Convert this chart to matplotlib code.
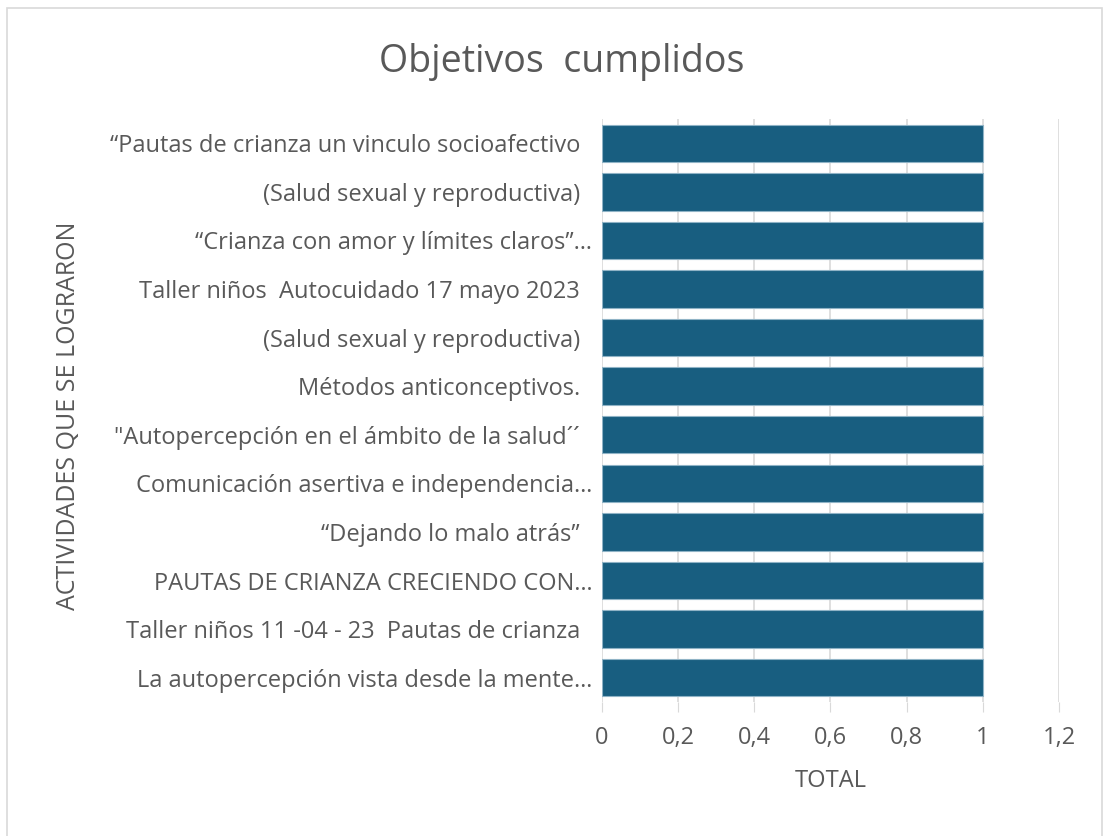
import matplotlib.pyplot as plt
from matplotlib.patches import Rectangle
from matplotlib.ticker import FuncFormatter

# activities, listed top to bottom as in the chart
actividades = [
    "\u201cPautas de crianza un vinculo socioafectivo  ",
    "(Salud sexual y reproductiva)  ",
    "\u201cCrianza con amor y límites claros\u201d\u2026",
    "Taller niños  Autocuidado 17 mayo 2023  ",
    "(Salud sexual y reproductiva)  ",
    "Métodos anticonceptivos.  ",
    "\"Autopercepción en el ámbito de la salud\u00b4\u00b4  ",
    "Comunicación asertiva e independencia\u2026",
    "\u201cDejando lo malo atrás\u201d  ",
    "PAUTAS DE CRIANZA CRECIENDO CON\u2026",
    "Taller niños 11 -04 - 23  Pautas de crianza  ",
    "La autopercepción vista desde la mente\u2026",
]
total = [1, 1, 1, 1, 1, 1, 1, 1, 1, 1, 1, 1]
xticks = [0, 0.2, 0.4, 0.6, 0.8, 1.0, 1.2]

plt.rcParams['font.family'] = ['Open Sans', 'DejaVu Sans']
gris = '#595959'

fig = plt.figure(figsize=(11.06, 8.36), dpi=100)
ax = fig.add_axes([0.5443, 0.1603, 0.4132, 0.6974])

pos = list(range(len(actividades)))
ax.barh(pos, total, height=0.77, color='#185e80', edgecolor='#8fb3c6', linewidth=0.8, zorder=3)

ax.set_ylim(len(actividades) - 0.5, -0.5)
ax.set_xlim(0, 1.2)
ax.set_yticks(pos)
ax.set_yticklabels(actividades, fontsize=17, color=gris)
ax.set_xticks(xticks)
ax.xaxis.set_major_formatter(FuncFormatter(lambda v, p: ('%g' % v).replace('.', ',')))
ax.tick_params(axis='x', labelsize=17, labelcolor=gris, color='#d9d9d9', length=7, pad=10)
ax.tick_params(axis='y', length=0, pad=7)

ax.grid(axis='x', color='#d9d9d9', linewidth=1.2, zorder=0)
for s in ax.spines.values():
    s.set_visible(False)

ax.set_xlabel('TOTAL', fontsize=17, color=gris, labelpad=14)
ax.set_ylabel('ACTIVIDADES QUE SE LOGRARON', fontsize=18, color=gris, labelpad=0)
ax.yaxis.set_label_coords(-1.14, 0.49)

fig.text(0.508, 0.926, 'Objetivos  cumplidos', ha='center', va='center', fontsize=27, color=gris)

# chart border
fig.patches.append(Rectangle((0.006, -0.01), 0.99, 1.0, transform=fig.transFigure,
                             fill=False, edgecolor='#d9d9d9', linewidth=1.2))

fig.savefig('out.png', dpi=100)
